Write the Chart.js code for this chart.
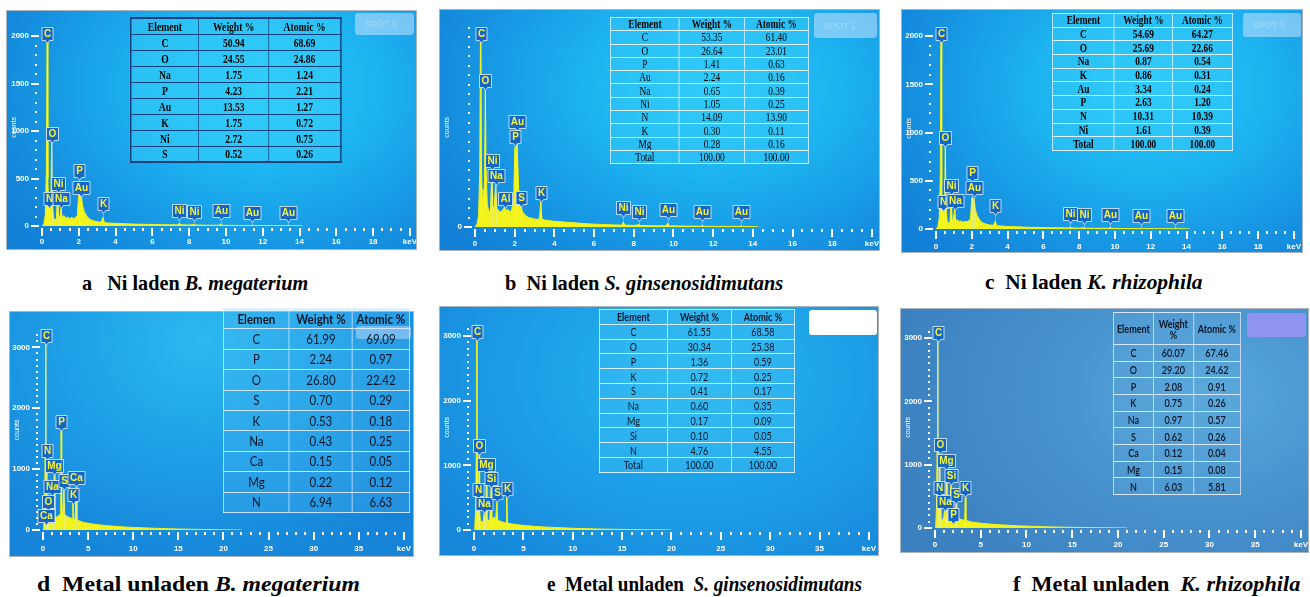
<!DOCTYPE html>
<html>
<head>
<meta charset="utf-8">
<title>EDS spectra</title>
<script src="https://cdn.jsdelivr.net/npm/chart.js@4.4.1/dist/chart.umd.min.js"></script>
<style>
  body { margin:0; width:1310px; height:597px; background:#fff; position:relative; overflow:hidden; }
  .panel { position:absolute; overflow:hidden; outline:1px solid #a9b4bf; }
  .panel canvas { position:absolute; left:0; top:0; }
  .spot { position:absolute; border-radius:3px; font:9px "Liberation Sans", sans-serif; color:rgba(255,255,255,0.3);
          display:flex; align-items:center; padding-left:10px; box-sizing:border-box; }
  .eds { position:absolute; border-collapse:collapse; transform-origin:0 0; table-layout:fixed; }
  .eds td { text-align:center; padding:0; white-space:nowrap; overflow:hidden; line-height:1; }
  .cap { position:absolute; font:bold 21px "Liberation Serif", serif; white-space:pre; transform-origin:0 50%; color:#000; }
</style>
</head>
<body>
<script>
// ---- spectra: [keV, counts] ----
const spectrumA = [
  [0,0],[0.10,20],[0.18,120],[0.24,600],[0.28,2200],[0.32,500],[0.36,180],[0.39,240],[0.43,120],[0.48,200],
  [0.52,880],[0.56,260],[0.62,90],[0.70,60],[0.78,80],[0.85,350],[0.90,110],[0.96,90],[1.04,190],[1.09,90],
  [1.20,110],[1.30,80],[1.40,95],[1.50,75],[1.60,90],[1.70,80],[1.80,85],[1.92,110],[2.01,380],[2.06,300],
  [2.12,340],[2.20,220],[2.30,150],[2.45,100],[2.60,70],[2.80,55],[3.00,45],[3.20,40],[3.31,90],[3.40,35],
  [3.70,30],[4.0,28],[4.5,24],[5.0,20],[5.5,18],[6.0,16],[6.5,14],[7.0,13],[7.40,12],[7.47,30],[7.55,12],
  [8.0,10],[8.26,16],[8.35,10],[9.0,8],[9.62,8],[9.71,20],[9.80,8],[10.5,6],[11.35,5],[11.44,8],[11.55,5],
  [12.5,4],[13.3,3],[13.38,6],[13.5,3],[14.0,2],[14.2,0]
];
const spectrumB = [
  [0,0],[0.10,15],[0.18,60],[0.24,300],[0.28,1100],[0.32,350],[0.36,160],[0.40,200],[0.45,150],[0.48,250],
  [0.52,720],[0.56,300],[0.62,120],[0.70,80],[0.78,90],[0.85,300],[0.90,110],[0.96,100],[1.04,220],[1.10,100],
  [1.20,85],[1.30,80],[1.40,90],[1.49,105],[1.56,85],[1.65,95],[1.75,80],[1.85,90],[1.95,150],[2.01,420],
  [2.06,380],[2.12,440],[2.20,200],[2.31,110],[2.40,80],[2.55,60],[2.70,50],[2.90,45],[3.10,40],[3.25,45],
  [3.31,130],[3.38,40],[3.6,35],[4.0,30],[4.5,26],[5.0,22],[5.5,18],[6.0,15],[6.5,13],[7.0,11],[7.40,10],
  [7.47,25],[7.55,10],[8.0,8],[8.26,12],[8.35,8],[9.0,7],[9.62,6],[9.71,20],[9.80,6],[10.5,5],[11.35,4],
  [11.44,7],[11.55,4],[12.5,3],[13.3,3],[13.38,5],[13.5,3],[14.0,2],[14.3,0]
];
const spectrumC = [
  [0,0],[0.10,20],[0.18,110],[0.24,550],[0.28,2200],[0.32,450],[0.36,170],[0.39,230],[0.43,110],[0.48,190],
  [0.52,860],[0.56,240],[0.62,85],[0.70,60],[0.78,75],[0.85,350],[0.90,100],[0.96,85],[1.04,200],[1.09,85],
  [1.20,95],[1.30,75],[1.40,85],[1.50,70],[1.60,80],[1.70,75],[1.80,80],[1.92,100],[2.01,330],[2.06,280],
  [2.12,320],[2.20,200],[2.30,140],[2.45,90],[2.60,65],[2.80,50],[3.00,42],[3.20,38],[3.31,80],[3.40,34],
  [3.70,30],[4.0,27],[4.5,23],[5.0,19],[5.5,17],[6.0,15],[6.5,13],[7.0,12],[7.40,11],[7.47,22],[7.55,11],
  [8.0,9],[8.26,14],[8.35,9],[9.0,7],[9.62,7],[9.71,16],[9.80,7],[10.5,5],[11.35,4],[11.44,7],[11.55,4],
  [12.5,3],[13.3,3],[13.38,6],[13.5,3],[14.0,2],[14.2,0]
];
const spectrumD = [
  [0,0],[0.08,40],[0.16,300],[0.24,1200],[0.28,3400],[0.32,900],[0.36,400],[0.39,1140],[0.43,350],[0.48,300],
  [0.52,320],[0.58,200],[0.68,160],[0.80,150],[0.92,160],[1.04,560],[1.10,190],[1.18,200],[1.25,900],[1.32,220],
  [1.45,210],[1.60,220],[1.74,240],[1.88,250],[1.96,280],[2.01,1630],[2.07,320],[2.18,270],[2.31,655],[2.40,260],
  [2.60,230],[2.85,210],[3.10,195],[3.25,190],[3.31,430],[3.38,185],[3.55,175],[3.69,700],[3.76,170],[4.0,150],
  [4.5,125],[5,110],[6,88],[7,72],[8,60],[9,50],[10,42],[11,36],[12,30],[13,25],[14,20],[15,16],[16,13],
  [17,10],[18,8],[19,6],[20,4],[21,2],[22,0]
];
const spectrumE = [
  [0,0],[0.08,40],[0.16,300],[0.24,1300],[0.28,3300],[0.32,900],[0.36,350],[0.39,475],[0.44,300],[0.48,500],
  [0.52,1160],[0.57,300],[0.65,150],[0.78,120],[0.92,130],[1.04,260],[1.10,140],[1.18,150],[1.25,860],[1.31,160],
  [1.45,150],[1.60,160],[1.74,645],[1.80,170],[1.92,180],[2.01,200],[2.10,180],[2.20,170],[2.31,430],[2.38,160],
  [2.60,140],[2.85,125],[3.10,115],[3.25,110],[3.31,500],[3.38,110],[3.6,100],[4.0,90],[4.5,80],[5,70],[6,58],
  [7,48],[8,40],[9,33],[10,27],[11,22],[12,18],[13,14],[14,11],[15,9],[16,7],[17,5],[18,3],[19,2],[20,0]
];
const spectrumF = [
  [0,0],[0.08,40],[0.16,300],[0.24,1300],[0.28,3300],[0.32,900],[0.36,350],[0.39,480],[0.44,300],[0.48,500],
  [0.52,1170],[0.57,300],[0.65,160],[0.78,130],[0.92,140],[1.04,265],[1.10,150],[1.18,160],[1.25,920],[1.31,170],
  [1.45,160],[1.60,170],[1.74,670],[1.80,180],[1.92,190],[2.01,230],[2.10,190],[2.20,180],[2.31,380],[2.38,170],
  [2.60,150],[2.85,135],[3.10,125],[3.25,120],[3.31,480],[3.38,120],[3.6,110],[4.0,95],[4.5,85],[5,75],[6,62],
  [7,52],[8,43],[9,36],[10,30],[11,25],[12,20],[13,16],[14,13],[15,10],[16,8],[17,6],[18,4],[19,3],[20,1],[21,0]
];

// ---- peak tags: [element, keV, counts at tag tip] ----
const tagsA = [['C',0.28,1930],['O',0.52,870],['Ni',0.85,350],['N',0.39,185],['Na',1.04,185],['P',2.01,480],
  ['Au',2.12,310],['K',3.31,137],['Ni',7.47,60],['Ni',8.26,50],['Au',9.71,60],['Au',11.44,40],['Au',13.38,40]];
const tagsB = [['C',0.28,970],['O',0.52,722],['Ni',0.85,302],['Na',1.04,220],['Al',1.49,98],['Au',2.12,507],
  ['P',2.01,424],['S',2.31,107],['K',3.31,132],['Ni',7.47,54],['Ni',8.26,34],['Au',9.71,44],['Au',11.44,29],['Au',13.38,29]];
const tagsC = [['C',0.28,1930],['O',0.52,855],['Ni',0.85,356],['N',0.39,183],['Na',1.04,192],['P',2.01,490],
  ['Au',2.12,327],['K',3.31,144],['Ni',7.47,67],['Ni',8.26,48],['Au',9.71,48],['Au',11.44,38],['Au',13.38,38]];
const tagsD = [['C',0.28,3046],['N',0.39,1142],['Mg',1.25,899],['Na',1.04,563],['O',0.52,320],['Ca',0.34,76],
  ['P',2.01,1630],['S',2.31,655],['Ca',3.69,700],['K',3.31,426]];
const tagsE = [['C',0.28,2927],['O',0.52,1162],['N',0.39,474],['Mg',1.25,861],['Si',1.74,646],['Na',1.04,258],
  ['S',2.31,430],['K',3.31,502]];
const tagsF = [['C',0.28,2941],['O',0.52,1170],['N',0.39,483],['Mg',1.25,922],['Si',1.74,673],['Na',1.04,263],
  ['S',2.31,380],['K',3.31,483],['P',2.01,58]];

// ---- composition tables ----
const elementsA = ['C','O','Na','P','Au','K','Ni','S'];
const weightA = [50.94,24.55,1.75,4.23,13.53,1.75,2.72,0.52];
const atomicA = [68.69,24.86,1.24,2.21,1.27,0.72,0.75,0.26];
const elementsB = ['C','O','P','Au','Na','Ni','N','K','Mg','Total'];
const weightB = [53.35,26.64,1.41,2.24,0.65,1.05,14.09,0.30,0.28,100.00];
const atomicB = [61.40,23.01,0.63,0.16,0.39,0.25,13.90,0.11,0.16,100.00];
const elementsC = ['C','O','Na','K','Au','P','N','Ni','Total'];
const weightC = [54.69,25.69,0.87,0.86,3.34,2.63,10.31,1.61,100.00];
const atomicC = [64.27,22.66,0.54,0.31,0.24,1.20,10.39,0.39,100.00];
const elementsD = ['C','P','O','S','K','Na','Ca','Mg','N'];
const weightD = [61.99,2.24,26.80,0.70,0.53,0.43,0.15,0.22,6.94];
const atomicD = [69.09,0.97,22.42,0.29,0.18,0.25,0.05,0.12,6.63];
const elementsE = ['C','O','P','K','S','Na','Mg','Si','N','Total'];
const weightE = [61.55,30.34,1.36,0.72,0.41,0.60,0.17,0.10,4.76,100.00];
const atomicE = [68.58,25.38,0.59,0.25,0.17,0.35,0.09,0.05,4.55,100.00];
const elementsF = ['C','O','P','K','Na','S','Ca','Mg','N'];
const weightF = [60.07,29.20,2.08,0.75,0.97,0.62,0.12,0.15,6.03];
const atomicF = [67.46,24.62,0.91,0.26,0.57,0.26,0.04,0.08,5.81];

// ---- captions ----
const captionTags = ['a','b','c','d','e','f'];
const captionLead = ['Ni laden','Ni laden','Ni laden','Metal unladen','Metal unladen','Metal unladen'];
const captionSpecies = ['B. megaterium','S. ginsenosidimutans','K. rhizophila','B. megaterium','S. ginsenosidimutans','K. rhizophila'];

const NARROW = '"Liberation Sans Narrow","Liberation Sans",sans-serif';
const bgBright = 'radial-gradient(ellipse 75% 95% at 62% 32%, #27c7f7 0%, #1db2f0 40%, #1692e1 75%, #1280d6 100%)';
const bgD = 'radial-gradient(ellipse 70% 95% at 48% 12%, #2cbaef 0%, #1e9fe7 50%, #1684d8 100%)';
const bgE = 'radial-gradient(ellipse 75% 95% at 58% 28%, #28b7ef 0%, #1d9fe7 50%, #1686d9 100%)';
const bgF = 'radial-gradient(ellipse 80% 100% at 75% 35%, #58a8dd 0%, #4791cd 50%, #3b80bf 100%)';

// white tick marks on both axes, long ones where a label is printed
const tickMarks = {
  id: 'tickMarks',
  afterDraw(chart) {
    const {ctx, chartArea, scales: {x, y}} = chart;
    ctx.save();
    ctx.fillStyle = '#fff';
    x.ticks.forEach(t => {
      const px = Math.round(x.getPixelForValue(t.value));
      ctx.fillRect(px - 1, chartArea.bottom + 2, 2, t.label !== '' ? 8 : 3);
    });
    y.ticks.forEach(t => {
      const py = Math.round(y.getPixelForValue(t.value));
      if (t.label !== '') ctx.fillRect(chartArea.left - 11, py - 1, 8, 2);
      else ctx.fillRect(chartArea.left - 7, py - 1, 2, 2);
    });
    ctx.restore();
  }
};

// element flags hanging over the peaks
const peakTags = {
  id: 'peakTags',
  afterDatasetsDraw(chart, args, opts) {
    const {ctx, scales: {x, y}} = chart;
    const base = y.getPixelForValue(0);
    ctx.save();
    ctx.font = 'bold 10px ' + NARROW;
    opts.tags.forEach(([el, kev, level]) => {
      const px = Math.round(x.getPixelForValue(kev)) + 0.5;
      const tip = Math.round(y.getPixelForValue(level)) + 0.5;
      const w = Math.round(ctx.measureText(el).width) + 4, h = 13;
      const top = tip - 3 - h, l = px - w / 2;
      ctx.strokeStyle = 'rgba(225,240,255,0.35)';
      ctx.lineWidth = 1;
      ctx.beginPath(); ctx.moveTo(px, tip); ctx.lineTo(px, base); ctx.stroke();
      ctx.beginPath();
      ctx.moveTo(l, top); ctx.lineTo(l + w, top); ctx.lineTo(l + w, top + h);
      ctx.lineTo(px + 2, top + h); ctx.lineTo(px, tip); ctx.lineTo(px - 2, top + h);
      ctx.lineTo(l, top + h); ctx.closePath();
      ctx.fillStyle = '#1566c6';
      ctx.fill();
      ctx.strokeStyle = 'rgba(215,235,255,0.85)';
      ctx.stroke();
      ctx.fillStyle = '#f4f43a';
      ctx.textAlign = 'center';
      ctx.textBaseline = 'middle';
      ctx.fillText(el, px, top + h / 2 + 0.5);
    });
    ctx.restore();
  }
};

const panels = [
  {frame:[7,11,409,238], plot:[42,13,410,226], xMax:20, xStep:0.5, xMajor:2, yMax:2078, yStep:100, yMajor:500, xPad:11, bg:bgBright, spectrum:spectrumA, tags:tagsA},
  {frame:[440,10,439,240], plot:[475,12,874,227], xMax:20, xStep:0.5, xMajor:2, yMax:1049, yStep:50, yMajor:500, xPad:12, bg:bgBright, spectrum:spectrumB, tags:tagsB},
  {frame:[902,10,400,242], plot:[936,12,1297,229], xMax:20, xStep:0.5, xMajor:2, yMax:2087, yStep:100, yMajor:500, xPad:13, bg:bgBright, spectrum:spectrumC, tags:tagsC},
  {frame:[10,312,403,244], plot:[43,314,408,530], xMax:40, xStep:1, xMajor:5, yMax:3289, yStep:100, yMajor:1000, xPad:14, bg:bgD, spectrum:spectrumD, tags:tagsD},
  {frame:[440,307,438,248], plot:[474,309,872,530], xMax:40, xStep:1, xMajor:5, yMax:3172, yStep:100, yMajor:1000, xPad:14, bg:bgE, spectrum:spectrumE, tags:tagsE},
  {frame:[901,309,407,243], plot:[935,311,1303,528], xMax:40, xStep:1, xMajor:5, yMax:3176, yStep:100, yMajor:1000, xPad:12, bg:bgF, spectrum:spectrumF, tags:tagsF}
];

function drawPanel(p) {
  const [fl, ft, fw, fh] = p.frame;
  const [pl, pt, pr, pb] = p.plot;
  const div = document.createElement('div');
  div.className = 'panel';
  Object.assign(div.style, {left: fl + 'px', top: ft + 'px', width: fw + 'px', height: fh + 'px', background: p.bg});
  const cv = document.createElement('canvas');
  const cw = fw + 12;
  cv.width = cw; cv.height = fh;
  div.appendChild(cv);
  document.body.appendChild(div);
  const tickFont = {family: NARROW, size: 8, weight: 'bold'};
  new Chart(cv, {
    type: 'line',
    data: {datasets: [{
      data: p.spectrum.map(([x, y]) => ({x, y})),
      borderColor: '#f2f21c', backgroundColor: '#f2f21c', borderWidth: 1,
      pointRadius: 0, fill: 'origin', tension: 0
    }]},
    options: {
      responsive: false, animation: false, events: [],
      layout: {padding: {top: pt - ft, right: fl + cw - pr, left: 0, bottom: 0}},
      plugins: {legend: {display: false}, tooltip: {enabled: false}, peakTags: {tags: p.tags}},
      scales: {
        x: {
          type: 'linear', min: 0, max: p.xMax,
          afterFit: s => { s.height = ft + fh - pb; },
          grid: {display: false, drawTicks: false}, border: {display: false},
          ticks: {stepSize: p.xStep, autoSkip: false, maxRotation: 0, maxTicksLimit: 1000, includeBounds: false,
            padding: p.xPad, color: '#fff', font: tickFont,
            callback: v => v === p.xMax ? 'keV' : (v % p.xMajor === 0 ? String(v) : '')}
        },
        y: {
          min: 0, max: p.yMax,
          afterFit: s => { s.width = pl - fl; },
          grid: {display: false, drawTicks: false}, border: {display: false},
          title: {display: true, text: 'counts', color: '#fff', font: {family: '"Liberation Sans",sans-serif', size: 7}, padding: {top: 3, bottom: 0}},
          ticks: {stepSize: p.yStep, autoSkip: false, maxTicksLimit: 1000, includeBounds: false,
            padding: 13, color: '#fff', font: tickFont,
            callback: v => v % p.yMajor === 0 ? String(v) : ''}
        }
      }
    },
    plugins: [tickMarks, peakTags]
  });
}
panels.forEach(drawPanel);

// acquisition-spot buttons in the corner of each panel
const spots = [
  [355,13,59,22,'rgba(215,232,255,0.5)','SPOT 3'], [814,13,63,25,'rgba(215,232,255,0.5)','SPOT 1'],
  [1243,13,58,24,'rgba(215,232,255,0.5)','SPOT 3'], [356,326,55,13,'rgba(205,220,255,0.55)',''],
  [809,310,68,25,'#ffffff',''], [1247,313,59,24,'#8f93f2','']
];
spots.forEach(([l, t, w, h, c, txt]) => {
  const d = document.createElement('div');
  d.className = 'spot';
  Object.assign(d.style, {left: l + 'px', top: t + 'px', width: w + 'px', height: h + 'px', background: c});
  d.textContent = txt;
  document.body.appendChild(d);
});

// element composition tables
const tables = [
  {box:[130,17,210,144], cols:[68,70,72], head:['Element','Weight %','Atomic %'], headH:16, rowH:16,
   el:elementsA, w:weightA, at:atomicA, font:'bold 13px "Liberation Serif",serif', headW:'bold', squeeze:0.74,
   bg:'rgba(70,220,255,0.35)', line:'1px solid #17407c', outer:'2px solid #17407c', color:'#000'},
  {box:[610,17,198,146], cols:[69,65,64], head:['Element','Weight %','Atomic %'], headH:13.3, rowH:13.3,
   el:elementsB, w:weightB, at:atomicB, font:'12px "Liberation Serif",serif', headW:'bold', squeeze:0.78,
   bg:'rgba(70,215,255,0.3)', line:'1px solid rgba(255,255,255,0.85)', outer:'1px solid rgba(255,255,255,0.9)', color:'#000'},
  {box:[1052,13,180,137], cols:[62,58,60], head:['Element','Weight %','Atomic %'], headH:13.7, rowH:13.7,
   el:elementsC, w:weightC, at:atomicC, font:'bold 12px "Liberation Serif",serif', headW:'bold', squeeze:0.78,
   bg:'rgba(70,215,255,0.3)', line:'1px solid rgba(255,255,255,0.85)', outer:'1px solid rgba(255,255,255,0.9)', color:'#000'},
  {box:[223,308,186,204], cols:[66,63,57], head:['Elemen','Weight %','Atomic %'], headH:20.4, rowH:20.4,
   el:elementsD, w:weightD, at:atomicD, font:'14px Lato,sans-serif', headW:'bold', squeeze:0.82,
   bg:'rgba(90,190,245,0.22)', line:'1px solid rgba(230,240,255,0.85)', outer:'1px solid rgba(230,240,255,0.85)', color:'#0c1524'},
  {box:[599,309,195,163], cols:[68,64,63], head:['Element','Weight %','Atomic %'], headH:14.8, rowH:14.8,
   el:elementsE, w:weightE, at:atomicE, font:'11px Lato,sans-serif', headW:'bold', squeeze:0.82,
   bg:'rgba(80,205,250,0.28)', line:'1px solid rgba(255,255,255,0.8)', outer:'1px solid rgba(255,255,255,0.85)', color:'#0c1524'},
  {box:[1113,312,127,182], cols:[40,40,47], head:['Element','Weight<br>%','Atomic %'], headH:32, rowH:16.67,
   el:elementsF, w:weightF, at:atomicF, font:'600 11px Lato,sans-serif', headW:'bold', squeeze:0.82,
   bg:'rgba(100,170,220,0.25)', line:'1px solid rgba(235,242,252,0.85)', outer:'1px solid rgba(235,242,252,0.9)', color:'#0c1524'}
];

function buildTable(t) {
  const s = t.squeeze;
  const tb = document.createElement('table');
  tb.className = 'eds';
  Object.assign(tb.style, {
    left: t.box[0] + 'px', top: t.box[1] + 'px', width: (t.box[2] / s) + 'px', height: t.box[3] + 'px',
    transform: `scaleX(${s})`, font: t.font, color: t.color, border: t.outer, background: t.bg
  });
  const cg = document.createElement('colgroup');
  t.cols.forEach(c => { const col = document.createElement('col'); col.style.width = (c / s) + 'px'; cg.appendChild(col); });
  tb.appendChild(cg);
  const rows = [t.head].concat(t.el.map((e, i) => [e, t.w[i].toFixed(2), t.at[i].toFixed(2)]));
  rows.forEach((r, ri) => {
    const tr = document.createElement('tr');
    tr.style.height = (ri === 0 ? t.headH : t.rowH) + 'px';
    r.forEach(v => {
      const td = document.createElement('td');
      td.innerHTML = v;
      td.style.border = t.line;
      if (ri === 0) { td.style.fontWeight = t.headW; td.style.whiteSpace = 'normal'; }
      tr.appendChild(td);
    });
    tb.appendChild(tr);
  });
  document.body.appendChild(tb);
}
tables.forEach(buildTable);

// panel captions, squeezed to their measured width
const captionBoxes = [[82,308,283,'   ',' '],[505,783,283,'  ',' '],[985,1203,282,'  ',' '],
  [37,360,584,'  ',' '],[547,862,584,'  ','  '],[1013,1300,584,'  ','  ']];
captionTags.forEach((tag, i) => {
  const [l, r, cy, gap1, gap2] = captionBoxes[i];
  const d = document.createElement('div');
  d.className = 'cap';
  d.innerHTML = tag + gap1 + captionLead[i] + gap2 + '<i>' + captionSpecies[i] + '</i>';
  document.body.appendChild(d);
  const w = d.offsetWidth, h = d.offsetHeight;
  d.style.left = l + 'px';
  d.style.top = (cy - h / 2) + 'px';
  d.style.transform = `scaleX(${(r - l) / w})`;
});
</script>
</body>
</html>
